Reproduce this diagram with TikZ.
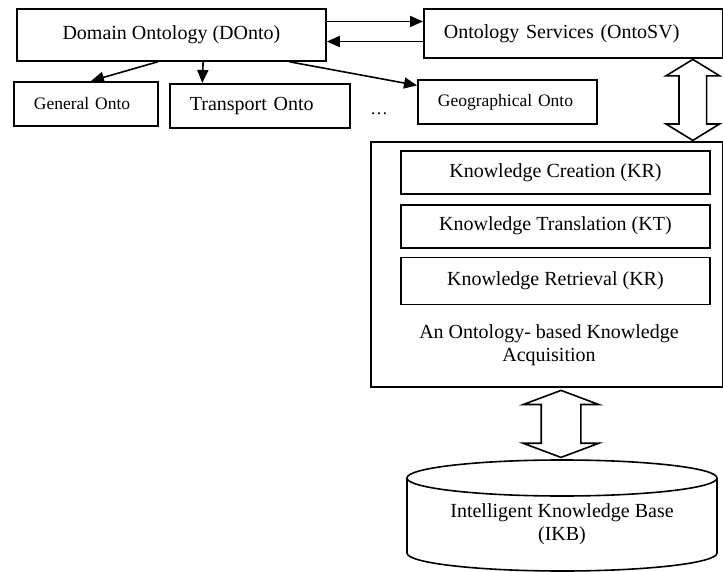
\documentclass[tikz,border=0pt]{standalone}
\usepackage{fontspec}
\setmainfont{Liberation Serif}
\usetikzlibrary{positioning, calc, shapes.arrows, arrows.meta}

\newcommand{\bigtxt}{\fontsize{20}{23}\selectfont}
\newcommand{\smalltxt}{\fontsize{17.5}{21}\selectfont}

\begin{document}
\begin{tikzpicture}[
    x=1pt, y=-1pt,
    node distance=9pt,
    box/.style={rectangle, draw, line width=1.8pt, inner sep=0pt,
                anchor=north west, align=center, font=\bigtxt},
    wbox/.style={box, align=left, inner xsep=20pt},
    dbl/.style={double arrow, draw, line width=1.6pt, rotate=90,
                inner xsep=0pt, double arrow head indent=0pt},
    lbl/.style={font=\bigtxt, align=center},
    can/.style={line width=1.6pt},
    arr/.style={-{Triangle[length=13pt, width=11pt]}, line width=1.6pt},
  ]
    \useasboundingbox (0,0) rectangle (723,572);

    % Top row
    \node[box, minimum width=309pt, minimum height=52pt] (DO) at (16,8)
      {Domain Ontology (DOnto)};
    \node[wbox, text width=259pt, minimum height=49pt] (OS) at (423,8)
      {Ontology Services (OntoSV)};
    \coordinate (d1) at ($(DO.north east)!0.25!(DO.south east)$);
    \coordinate (d2) at ($(OS.north west)!0.66!(OS.south west)$);
    \draw[arr] (d1) -- (d1 -| OS.west);
    \draw[arr] (d2) -- (d2 -| DO.east);

    % Domain ontologies
    \node[wbox, font=\smalltxt, text width=104pt, minimum height=44pt] (GO) at (13,81)
      {General Onto};
    \node[wbox, text width=140pt, minimum height=44pt] (TO) at (169,83)
      {Transport Onto};
    \node[wbox, font=\smalltxt, text width=139pt, minimum height=44pt] (GeO) at (417,79)
      {Geographical Onto};
    \node[font=\smalltxt] (dots) at (379,114) {\dots};
    \draw[arr] ($(DO.south west)!0.456!(DO.south east)$) -- ($(GO.north west)!0.535!(GO.north east)$);
    \draw[arr] ($(DO.south west)!0.602!(DO.south east)$) -- ($(TO.north west)!0.183!(TO.north east)$);
    \draw[arr] ($(DO.south west)!0.88!(DO.south east)$) -- ($(GeO.north west)!0.14!(GeO.south west)$);

    % Knowledge acquisition
    \node[box, minimum width=352pt, minimum height=245pt] (Acq) at (370,141) {};
    \node[box, minimum width=309pt, minimum height=43pt] (KC) at (400,150)
      {Knowledge Creation (KR)};
    \node[box, minimum width=309pt, minimum height=43pt, below=9pt of KC] (KT)
      {Knowledge Translation (KT)};
    \node[box, minimum width=309pt, minimum height=47pt, below=8pt of KT] (KR)
      {Knowledge Retrieval (KR)};
    \node[lbl] (AcqT) at (549,345)
      {An Ontology- based Knowledge\\Acquisition};

    % Knowledge base (drawn as a can)
    \node[lbl, minimum width=310pt] (IKB) at (562,524)
      {Intelligent Knowledge Base\\(IKB)};
    \coordinate (IKBtop) at ($(IKB.center)+(0,-46)$);
    \coordinate (IKBbot) at ($(IKB.center)+(0,29)$);
    \draw[can] (IKBtop) ellipse[x radius=155pt, y radius=18pt];
    \draw[can] ($(IKBtop)+(-155,0)$) -- ($(IKBbot)+(-155,0)$)
      arc[start angle=180, end angle=360, x radius=155pt, y radius=18pt]
      -- ($(IKBtop)+(155,0)$);

    % Double arrows
    \node[dbl, minimum height=81pt, inner ysep=13pt, double arrow head extend=13pt,
          double arrow tip angle=117] (UD1)
      at ($(OS.south east)!0.5!(Acq.north east) + (-31,0)$) {};
    \node[dbl, minimum height=67pt, inner ysep=19pt, double arrow head extend=18pt,
          double arrow tip angle=139] (UD2)
      at ($(Acq.south -| IKBtop)!0.5!(IKBtop) + (-1,-9)$) {};
  \end{tikzpicture}
\end{document}
